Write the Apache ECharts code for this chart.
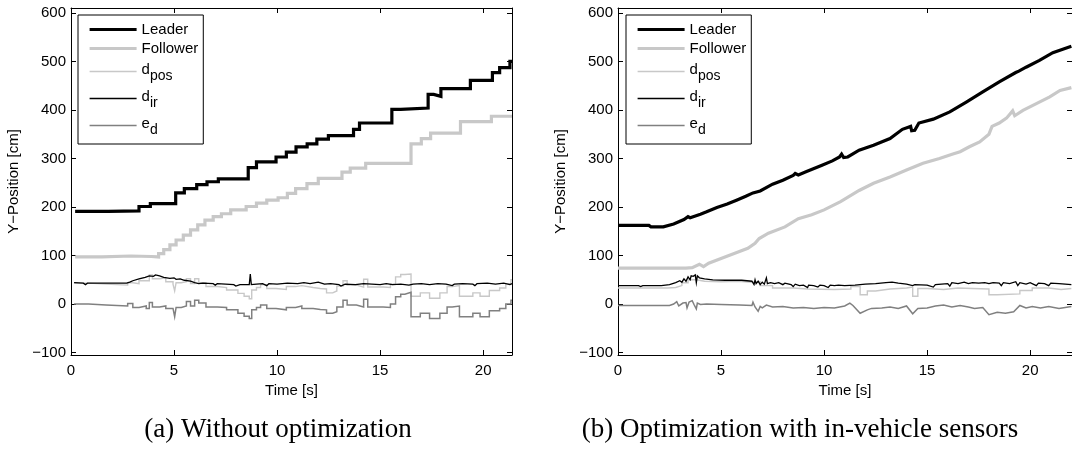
<!DOCTYPE html>
<html>
<head>
<meta charset="utf-8">
<script src="https://cdn.jsdelivr.net/npm/echarts@6/dist/echarts.min.js"></script>
<style>
  html, body { margin: 0; padding: 0; background: #fff; }
  #chart { width: 1072px; height: 455px; }
</style>
</head>
<body>
<div id="chart"></div>
<script>
// ---- tick values ----
const xTicks = [0, 5, 10, 15, 20];
const yTicks = [-100, 0, 100, 200, 300, 400, 500, 600];

// ---- (a) without optimization: [time s, position cm] ----
const leaderA = [[0.2,191],[1.8,192],[3.3,201],[3.85,207],[5.08,229],[5.5,238],[6.1,246],[6.6,252],[7.15,258],[8.6,281],[9.0,293],[9.95,303],[10.45,313],[10.92,324],[11.46,330],[11.93,340],[12.49,347],[13.71,360],[14.0,373],[15.57,401],[16.0,404],[17.33,432],[17.6,428],[17.95,444],[19.38,461],[20.45,477],[20.8,487],[21.3,500],[21.4,500]];
const followerA = [[0.2,97],[1.5,99],[2.9,98],[3.9,97],[4.25,104],[4.5,112],[4.8,122],[5.1,132],[5.45,142],[5.8,153],[6.15,163],[6.5,173],[6.9,180],[7.3,186],[7.75,194],[8.5,201],[9.0,208],[9.5,214],[10.05,219],[10.5,228],[10.9,238],[11.45,248],[12.0,259],[13.15,272],[13.55,280],[14.3,290],[16.5,330],[17.0,341],[17.45,352],[18.9,376],[20.4,387],[21.4,387]];
const dposA = [[0.15,43],[0.85,41],[1.7,39],[2.75,44],[3.0,42],[3.3,48],[3.65,48],[3.8,60],[3.95,52],[4.3,54],[4.6,46],[4.95,41],[5.03,27],[5.1,44],[5.35,46],[5.6,52],[5.8,42],[6.0,52],[6.2,44],[6.55,36],[7.1,34],[7.55,29],[8.1,22],[8.4,16],[8.65,11],[8.77,29],[9.0,34],[9.2,40],[9.5,32],[9.95,30],[10.45,36],[10.9,38],[11.2,34],[11.75,32],[12.1,31],[12.4,23],[12.7,27],[12.9,37],[13.2,48],[13.4,39],[13.85,35],[14.2,51],[14.4,35],[15.15,34],[15.5,41],[15.75,56],[16.0,61],[16.2,62],[16.5,16],[16.95,23],[17.4,12],[17.9,23],[18.25,36],[18.5,38],[18.85,16],[19.5,23],[19.85,16],[20.3,28],[20.8,33],[21.1,42],[21.35,50],[21.4,50]];
const dirA = [[0.15,44],[0.6,43],[0.7,40],[0.8,43],[1.7,43],[1.75,39],[1.85,43],[2.7,43],[2.75,39],[2.85,45],[3.0,48],[3.3,52],[3.6,55],[3.8,58],[4.0,57],[4.1,60],[4.3,58],[4.5,55],[4.8,53],[5.0,54],[5.1,51],[5.3,52],[5.5,49],[5.8,47],[6.0,44],[6.2,42],[6.4,43],[6.9,42],[7.0,39],[7.1,42],[7.5,41],[7.9,40],[8.0,37],[8.2,40],[8.65,40],[8.7,62],[8.75,40],[9.0,41],[9.3,42],[9.5,38],[9.6,42],[10.0,41],[10.5,43],[11.0,42],[11.3,44],[11.6,42],[12.0,45],[12.3,41],[12.6,42],[13.0,40],[13.1,37],[13.3,41],[13.8,40],[14.2,42],[14.6,41],[15.0,40],[15.3,42],[15.6,40],[16.0,41],[16.4,39],[16.6,41],[17.0,42],[17.4,40],[17.8,42],[18.2,41],[18.5,38],[18.6,41],[19.0,42],[19.5,41],[19.6,38],[19.7,42],[20.2,43],[20.6,41],[21.0,43],[21.3,40],[21.4,42]];
const edA = [[0.15,0],[0.85,-2],[1.7,-4],[2.75,1],[3.0,-7],[3.3,-4],[3.65,-9],[3.8,3],[3.95,-6],[4.3,-4],[4.6,-9],[4.95,-12],[5.03,-26],[5.1,-7],[5.35,-4],[5.6,5],[5.8,-4],[6.0,8],[6.2,2],[6.55,-6],[7.1,-7],[7.55,-12],[8.1,-19],[8.4,-25],[8.65,-30],[8.77,-12],[9.0,-7],[9.2,-2],[9.5,-9],[9.95,-12],[10.45,-7],[10.9,-4],[11.2,-9],[11.75,-11],[12.1,-12],[12.4,-19],[12.7,-16],[12.9,-6],[13.2,8],[13.4,-2],[13.85,-6],[14.2,10],[14.4,-6],[15.15,-7],[15.5,0],[15.75,15],[16.0,20],[16.2,24],[16.5,-26],[16.95,-19],[17.4,-30],[17.9,-19],[18.25,-6],[18.5,-4],[18.85,-26],[19.5,-19],[19.85,-26],[20.3,-14],[20.8,-9],[21.1,0],[21.35,8],[21.4,8]];

// ---- (b) optimization with in-vehicle sensors ----
const leaderB = [[0,162],[1.5,162],[1.6,159],[2.2,159],[2.7,165],[3.2,174],[3.4,180],[3.5,178],[4.0,185],[4.3,190],[4.8,199],[5.3,206],[5.75,214],[6.2,222],[6.55,229],[6.9,233],[7.5,247],[8.0,255],[8.5,265],[8.6,269],[8.75,266],[9.15,273],[9.9,286],[10.4,295],[10.75,303],[10.85,309],[10.95,302],[11.15,303],[11.7,317],[12.4,327],[13.2,341],[13.8,360],[14.2,366],[14.25,357],[14.4,358],[14.6,373],[15.3,381],[16.1,396],[16.9,416],[17.7,437],[18.5,458],[19.3,477],[19.45,480],[19.5,476],[19.8,488],[20.45,502],[21.1,518],[22.0,531]];
const followerB = [[0,74],[3.3,74],[3.6,75],[3.95,82],[4.15,77],[4.4,84],[5.0,94],[5.7,105],[6.3,115],[6.65,125],[6.85,135],[7.3,146],[8.1,159],[8.75,176],[9.4,184],[10.0,194],[10.8,211],[11.7,234],[12.4,249],[13.2,262],[14.0,276],[14.8,290],[15.6,300],[16.25,309],[16.6,314],[17.05,324],[17.55,334],[18.0,350],[18.15,366],[18.5,373],[18.85,383],[19.15,398],[19.25,388],[19.65,399],[20.3,413],[20.95,427],[21.45,440],[22.0,446]];
const dposB = [[0,33],[2.4,34],[2.8,38],[3.1,44],[3.4,50],[3.8,47],[4.2,46],[5.0,47],[5.8,45],[6.5,46],[6.9,38],[7.5,33],[8.5,31],[9.2,30],[10.5,31],[11.3,36],[11.75,19],[12.1,27],[12.5,31],[13.2,33],[14.0,35],[14.3,16],[14.55,32],[15.0,30],[15.8,33],[16.5,32],[17.2,31],[18.0,19],[18.4,21],[19.5,28],[20.1,33],[20.9,30],[21.5,32],[22.0,32]];
const dirB = [[0,38],[1.0,38],[1.1,36],[1.2,38],[2.1,38],[2.5,40],[2.8,44],[3.0,48],[3.1,45],[3.2,52],[3.3,47],[3.4,56],[3.5,50],[3.55,58],[3.65,57],[3.75,60],[3.8,44],[3.85,58],[3.95,54],[4.2,52],[4.6,50],[5.2,49],[6.0,49],[6.5,47],[6.6,40],[6.65,50],[6.7,42],[6.8,47],[6.9,40],[7.0,45],[7.1,41],[7.2,54],[7.25,42],[7.4,44],[7.6,42],[7.8,44],[8.0,40],[8.1,43],[8.4,40],[8.5,36],[8.6,41],[8.8,38],[9.0,39],[9.2,34],[9.25,39],[9.5,38],[9.7,35],[9.8,39],[10.0,38],[10.2,34],[10.3,39],[10.5,38],[10.7,39],[11.0,38],[11.5,39],[12.0,41],[12.5,42],[13.0,44],[13.3,45],[13.6,43],[14.0,41],[14.3,38],[14.4,40],[15.0,39],[15.3,35],[15.4,40],[15.7,41],[16.0,42],[16.1,37],[16.2,44],[16.5,42],[16.8,45],[17.0,42],[17.2,44],[17.5,43],[17.8,44],[18.0,42],[18.2,44],[18.5,43],[18.6,38],[18.7,44],[19.0,42],[19.3,46],[19.4,38],[19.5,44],[19.8,41],[20.0,44],[20.3,38],[20.4,43],[20.7,42],[20.9,38],[21.0,43],[21.4,42],[22.0,40]];
const edB = [[0,-3],[2.5,-3],[2.7,0],[2.85,5],[2.95,-4],[3.15,2],[3.3,3],[3.35,-8],[3.45,4],[3.6,7],[3.7,-2],[3.8,-10],[3.85,2],[4.0,-1],[4.3,0],[5.0,-1],[5.9,-2],[6.5,-3],[6.55,4],[6.65,-6],[6.8,-15],[6.9,-5],[7.0,-8],[7.2,-2],[7.5,-6],[8.0,-5],[8.5,-8],[9.0,-7],[9.5,-9],[10.0,-7],[10.5,-8],[11.0,-4],[11.25,2],[11.4,-3],[11.75,-19],[12.1,-12],[12.3,-9],[12.8,-8],[13.2,-6],[13.6,-9],[14.0,-4],[14.3,-20],[14.55,-9],[15.0,-8],[15.4,-4],[15.8,-2],[16.2,-6],[16.6,-3],[17.0,-6],[17.3,-9],[17.7,-7],[18.0,-22],[18.4,-17],[18.8,-19],[19.2,-16],[19.5,-3],[19.8,-8],[20.1,-5],[20.5,-8],[20.9,-5],[21.4,-9],[22.0,-5]];

// ---- labels ----
const seriesNames = ['Leader', 'Follower', 'dpos', 'dir', 'ed'];
const legendText = {
  Leader: '{n|Leader}',
  Follower: '{n|Follower}',
  dpos: '{m|d}{s|pos}',
  dir: '{m|d}{s|ir}',
  ed: '{m|e}{s|d}'
};
const captions = ['(a) Without optimization', '(b) Optimization with in-vehicle sensors'];
const xName = 'Time [s]';
const yName = 'Y\u2212Position [cm]';

const FONT = "'Liberation Sans', Arial, Helvetica, sans-serif";
const styles = {
  Leader:   { color: '#000000', width: 3.2, step: 'end' },
  Follower: { color: '#c8c8c8', width: 3.2, step: 'end' },
  dpos:     { color: '#c8c8c8', width: 1.4, step: 'end' },
  dir:      { color: '#000000', width: 1.3, step: false },
  ed:       { color: '#808080', width: 1.5, step: 'end' }
};

const panels = [
  { left: 71,  width: 441, xMax: 21.4, data: { Leader: leaderA, Follower: followerA, dpos: dposA, dir: dirA, ed: edA }, legendLeft: 78,  cap: 278 },
  { left: 618, width: 455, xMax: 22.03, data: { Leader: leaderB, Follower: followerB, dpos: dposB, dir: dirB, ed: edB }, legendLeft: 626, cap: 800 }
];
// second panel: traces are mostly smooth lines, not staircases
const stepB = { Leader: false, Follower: false, dpos: 'end', dir: false, ed: false };

const Y_MIN = -105, Y_MAX = 610, TOP = 8, HEIGHT = 347;

const grid = [], xAxis = [], yAxis = [], series = [], legend = [], graphic = [];
const fmtNum = v => (v < 0 ? '\u2212' + Math.abs(v) : String(v));

panels.forEach((p, i) => {
  grid.push({ left: p.left, top: TOP, width: p.width, height: HEIGHT, containLabel: false });
  const axLine = { show: true, onZero: false, lineStyle: { color: '#000', width: 1 } };
  const tick = (vals) => ({ show: true, inside: true, length: 5, customValues: vals, lineStyle: { color: '#000', width: 1 } });
  // bottom x axis with labels
  xAxis.push({
    type: 'value', gridIndex: i, position: 'bottom', min: 0, max: p.xMax,
    axisLine: axLine, axisTick: tick(xTicks), splitLine: { show: false },
    axisLabel: { customValues: xTicks, margin: 8, color: '#000', fontSize: 15, fontFamily: FONT, formatter: fmtNum },
    name: xName, nameLocation: 'middle', nameGap: 27,
    nameTextStyle: { color: '#000', fontSize: 15, fontFamily: FONT }
  });
  // top frame with ticks
  xAxis.push({
    type: 'value', gridIndex: i, position: 'top', min: 0, max: p.xMax,
    axisLine: axLine, axisTick: tick(xTicks), axisLabel: { show: false }, splitLine: { show: false }
  });
  // left y axis with labels
  yAxis.push({
    type: 'value', gridIndex: i, position: 'left', min: Y_MIN, max: Y_MAX,
    axisLine: axLine, axisTick: tick(yTicks), splitLine: { show: false },
    axisLabel: { customValues: yTicks, margin: 5, color: '#000', fontSize: 15, fontFamily: FONT, formatter: fmtNum },
    name: yName, nameLocation: 'middle', nameGap: 50,
    nameTextStyle: { color: '#000', fontSize: 15, fontFamily: FONT }
  });
  // right frame with ticks
  yAxis.push({
    type: 'value', gridIndex: i, position: 'right', min: Y_MIN, max: Y_MAX,
    axisLine: axLine, axisTick: tick(yTicks), axisLabel: { show: false }, splitLine: { show: false }
  });

  seriesNames.forEach(name => {
    const st = styles[name];
    series.push({
      name: name, type: 'line', xAxisIndex: i * 2, yAxisIndex: i * 2,
      data: p.data[name],
      step: i === 0 ? st.step : stepB[name],
      showSymbol: false, symbol: 'none', clip: true, silent: true,
      lineStyle: { color: st.color, width: st.width, join: 'miter' },
      itemStyle: { color: st.color }
    });
  });

  legend.push({
    data: seriesNames.map(n => ({
      name: n,
      lineStyle: { color: styles[n].color, width: styles[n].width },
      itemStyle: { opacity: 0, color: 'transparent', borderWidth: 0 }
    })),
    orient: 'vertical', left: p.legendLeft, top: 15,
    backgroundColor: '#fff', borderColor: '#000', borderWidth: 1, borderRadius: 0,
    padding: [7, 5, 7, 10], itemGap: 4, itemWidth: 47, itemHeight: 16,
    selectedMode: false,
    itemStyle: { opacity: 0, borderWidth: 0 },
    formatter: n => legendText[n],
    textStyle: {
      color: '#000', fontFamily: FONT, fontSize: 15,
      rich: {
        n: { fontSize: 15, fontFamily: FONT, color: '#000', lineHeight: 16 },
        m: { fontSize: 15, fontFamily: FONT, color: '#000', lineHeight: 16, padding: [1, 0, 5, 0] },
        s: { fontSize: 14, fontFamily: FONT, color: '#000', lineHeight: 13, padding: [9, 0, 0, 0] }
      }
    }
  });

  graphic.push({
    type: 'text', x: p.cap, y: 430,
    style: { text: captions[i], fill: '#000', font: "27px 'Liberation Serif', 'Times New Roman', serif", textAlign: 'center', textVerticalAlign: 'middle' }
  });
});

const chart = echarts.init(document.getElementById('chart'), null, { renderer: 'canvas' });
chart.setOption({
  animation: false,
  backgroundColor: '#fff',
  grid, xAxis, yAxis, series, legend, graphic
});
</script>
</body>
</html>
